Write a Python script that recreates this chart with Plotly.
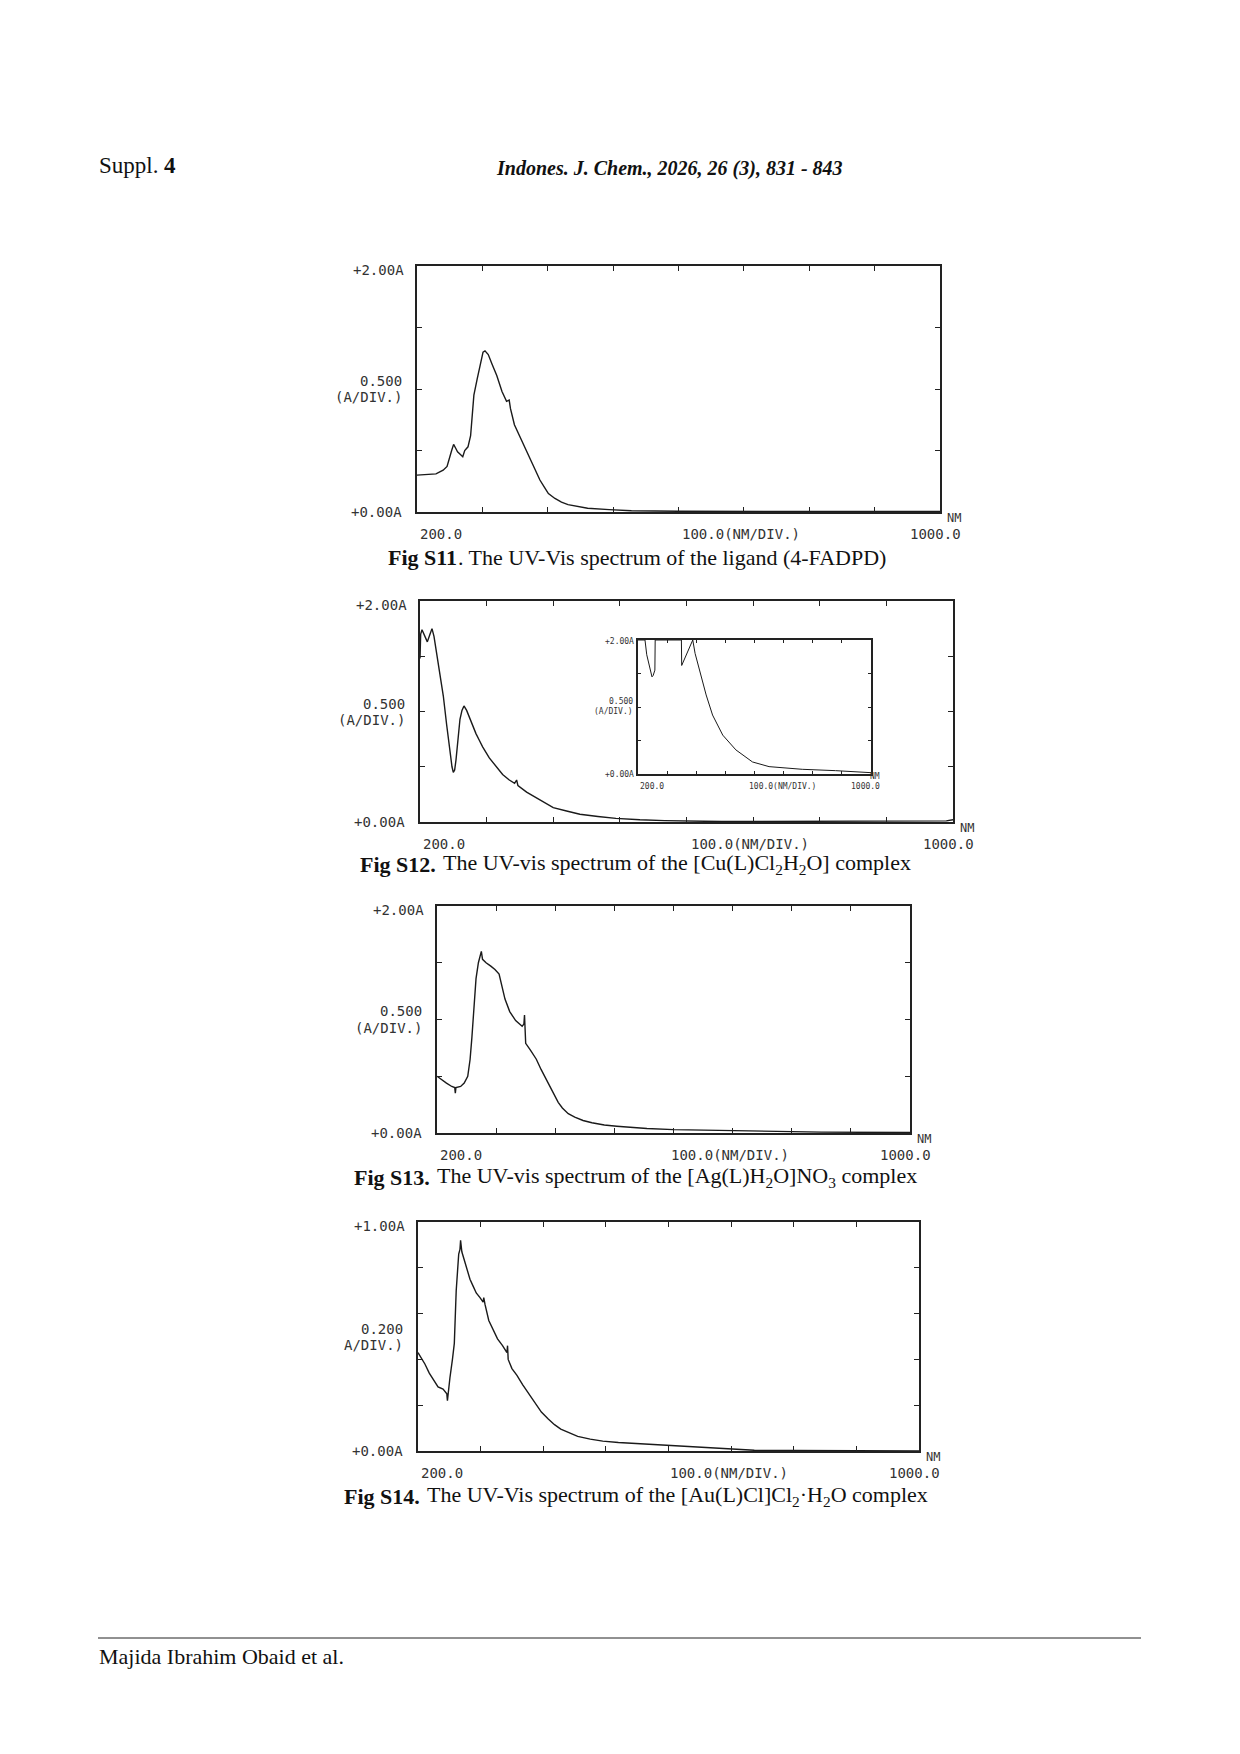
import plotly.graph_objects as go

W, H = 1240, 1754

# ---------------- data (wavelength nm, absorbance A) ----------------
s11_nm = [200, 229, 240, 246, 253, 256, 259, 262, 266, 270, 273, 278, 282, 287, 292, 297, 301, 304,
          309, 315, 322, 330, 337, 341, 343, 349, 356, 362, 369, 375, 382, 388, 395, 401, 411, 421,
          431, 441, 461, 494, 528, 600, 700, 800, 900, 1000]
s11_abs = [0.30, 0.31, 0.34, 0.37, 0.50, 0.55, 0.52, 0.49, 0.47, 0.45, 0.50, 0.53, 0.62, 0.95, 1.08,
           1.22, 1.30, 1.31, 1.28, 1.20, 1.11, 0.98, 0.90, 0.91, 0.84, 0.71, 0.63, 0.57, 0.49, 0.42,
           0.34, 0.26, 0.20, 0.15, 0.11, 0.08, 0.06, 0.048, 0.03, 0.019, 0.010, 0.006, 0.005, 0.004,
           0.004, 0.004]

s12_nm = [200, 201, 203, 207, 211, 215, 218, 221, 225, 230, 235, 240, 245, 248, 250, 252, 254, 257,
          260, 263, 266, 270, 274, 279, 284, 289, 294, 304, 314, 324, 334, 342, 345, 347, 360, 374,
          387, 400, 420, 440, 467, 494, 530, 567, 653, 700, 750, 800, 850, 900, 950, 990, 1000]
s12_abs = [1.48, 1.70, 1.74, 1.68, 1.63, 1.70, 1.75, 1.68, 1.53, 1.33, 1.14, 0.88, 0.62, 0.50, 0.45,
           0.47, 0.56, 0.78, 0.93, 1.01, 1.05, 1.01, 0.95, 0.87, 0.80, 0.74, 0.68, 0.58, 0.50, 0.43,
           0.38, 0.35, 0.38, 0.33, 0.27, 0.22, 0.17, 0.13, 0.10, 0.07, 0.05, 0.033, 0.02, 0.012,
           0.004, 0.005, 0.002, 0.005, 0.008, 0.004, 0.010, 0.010, 0.020]

s12_inset_nm = [200, 224, 230, 240, 248, 252, 258, 259, 349, 350, 360, 372, 388, 396, 411, 434, 456,
                491, 536, 593, 650, 764, 878, 946, 1000]
s12_inset_abs = [2.0, 2.0, 1.78, 1.58, 1.45, 1.47, 1.55, 2.0, 2.0, 1.62, 1.72, 1.85, 2.0, 1.80, 1.55,
                 1.18, 0.88, 0.58, 0.36, 0.18, 0.11, 0.07, 0.05, 0.035, 0.02]

s13_nm = [200, 205, 216, 225, 230, 231, 232, 240, 246, 252, 256, 259, 263, 266, 270, 273, 275, 277,
          283, 291, 298, 305, 309, 315, 323, 333, 344, 347, 348, 349, 350, 358, 368, 376, 383, 391,
          398, 405, 412, 422, 433, 447, 462, 483, 504, 530, 555, 600, 654, 700, 754, 850, 1000]
s13_abs = [0.50, 0.48, 0.44, 0.41, 0.40, 0.35, 0.40, 0.41, 0.44, 0.50, 0.65, 0.84, 1.15, 1.36, 1.50,
           1.55, 1.60, 1.53, 1.50, 1.47, 1.44, 1.40, 1.30, 1.18, 1.07, 0.99, 0.94, 0.96, 1.04, 0.85,
           0.79, 0.73, 0.65, 0.56, 0.49, 0.41, 0.33, 0.27, 0.22, 0.17, 0.14, 0.11, 0.09, 0.07, 0.06,
           0.05, 0.04, 0.03, 0.025, 0.018, 0.012, 0.008, 0.004]

s14_nm = [200, 211, 218, 225, 232, 240, 246, 247, 248, 251, 255, 258, 261, 265, 267, 268, 270, 273,
          278, 283, 288, 293, 299, 304, 305, 307, 313, 320, 327, 335, 342, 343, 344, 350, 358, 367,
          377, 387, 397, 408, 418, 428, 441, 455, 475, 495, 520, 549, 580, 616, 650, 683, 710, 737,
          800, 900, 1000]
s14_abs = [0.43, 0.38, 0.34, 0.31, 0.28, 0.27, 0.25, 0.22, 0.25, 0.32, 0.40, 0.47, 0.70, 0.86, 0.88,
           0.92, 0.87, 0.84, 0.80, 0.75, 0.72, 0.69, 0.67, 0.65, 0.67, 0.64, 0.57, 0.53, 0.49, 0.46,
           0.43, 0.46, 0.40, 0.36, 0.33, 0.29, 0.25, 0.21, 0.17, 0.14, 0.115, 0.096, 0.08, 0.064,
           0.052, 0.043, 0.037, 0.032, 0.027, 0.021, 0.016, 0.010, 0.006, 0.003, 0.002, 0.001, 0.0]

x_ticks = [200, 300, 400, 500, 600, 700, 800, 900, 1000]
y_top_labels = ["+2.00A", "+2.00A", "+2.00A", "+1.00A"]
y_div_labels = [("0.500", "(A/DIV.)"), ("0.500", "(A/DIV.)"), ("0.500", "(A/DIV.)"), ("0.200", "A/DIV.)")]
y_zero_label = "+0.00A"
x_left_label = "200.0"
x_mid_label = "100.0(NM/DIV.)"
x_right_label = "1000.0"
x_unit_label = "NM"
caption_heads = ["Fig S11", "Fig S12.", "Fig S13.", "Fig S14."]
caption_tails = [
    ". The UV-Vis spectrum of the ligand (4-FADPD)",
    "The UV-vis spectrum of the [Cu(L)Cl<sub>2</sub>H<sub>2</sub>O] complex",
    "The UV-vis spectrum of the [Ag(L)H<sub>2</sub>O]NO<sub>3</sub> complex",
    "The UV-Vis spectrum of the [Au(L)Cl]Cl<sub>2</sub>·H<sub>2</sub>O complex",
]

# ---------------- layout helpers ----------------
fig = go.Figure()
annotations = []
MONO = "DejaVu Sans Mono"
SERIF = "Liberation Serif"


def px(x):
    return x / W


def py(y):
    return 1 - y / H


def text(x, y, s, size, font=MONO, xa="center", ya="middle", color="#333",
         weight="normal", style="normal"):
    annotations.append(dict(x=px(x), y=py(y), xref="paper", yref="paper", text=s, showarrow=False,
                            xanchor=xa, yanchor=ya, borderpad=0,
                            font=dict(family=font, size=size, color=color, weight=weight,
                                      style=style)))


def panel(idx, box, xs, ys, ymax, dtick, lw=1.4, tl=5):
    x0, y0, x1, y1 = box
    xa = "xaxis" if idx == 1 else f"xaxis{idx}"
    ya = "yaxis" if idx == 1 else f"yaxis{idx}"
    xr = "x" if idx == 1 else f"x{idx}"
    yr = "y" if idx == 1 else f"y{idx}"
    fig.add_trace(go.Scatter(x=xs, y=ys, mode="lines", xaxis=xr, yaxis=yr,
                             line=dict(color="#1a1a1a", width=lw), showlegend=False,
                             hoverinfo="skip"))
    fig.layout[xa] = dict(domain=[px(x0), px(x1)], range=[200, 1000], anchor=yr,
                          tickvals=x_ticks, ticks="inside", ticklen=tl, tickwidth=1.2,
                          tickcolor="#222", showticklabels=False, showgrid=False, zeroline=False,
                          showline=True, linecolor="#222", linewidth=1.5, mirror="ticks",
                          fixedrange=True)
    fig.layout[ya] = dict(domain=[py(y1), py(y0)], range=[0, ymax], anchor=xr,
                          dtick=dtick, tick0=0, ticks="inside", ticklen=tl, tickwidth=1.2,
                          tickcolor="#222", showticklabels=False, showgrid=False, zeroline=False,
                          showline=True, linecolor="#222", linewidth=1.5, mirror="ticks",
                          fixedrange=True)


# main panels: (left, top, right, bottom) in pixels
boxes = [(417, 266, 940, 512), (420, 601, 953, 822), (437, 906, 910, 1133), (418, 1222, 919, 1451)]
series = [(s11_nm, s11_abs, 2.0, 0.5), (s12_nm, s12_abs, 2.0, 0.5),
          (s13_nm, s13_abs, 2.0, 0.5), (s14_nm, s14_abs, 1.0, 0.2)]
cap_y = [557, 864, 1177, 1496]
cap_split = [458, 437, 431, 421]   # x where bold head ends
cap_gap = [-1, 5, 5, 5]

for i, (box, (xs, ys, ymax, dt)) in enumerate(zip(boxes, series)):
    panel(i + 1, box, xs, ys, ymax, dt)
    x0, y0, x1, y1 = box
    text(x0 - 12, y0 + 4, y_top_labels[i], 14, xa="right")
    mid = (y0 + y1) / 2
    text(x0 - 14, mid - 8, y_div_labels[i][0], 14, xa="right")
    text(x0 - 14, mid + 8, y_div_labels[i][1], 14, xa="right")
    text(x0 - 14, y1, y_zero_label, 14, xa="right")
    text(x0 + 24, y1 + 22, x_left_label, 14)
    text(x0 + (x1 - x0) * 0.62, y1 + 22, x_mid_label, 14)
    text(x1 + 22, y1 + 22, x_right_label, 14, xa="right")
    text(x1 + 14, y1 + 6, x_unit_label, 12)
    text(cap_split[i], cap_y[i], caption_heads[i], 22, font=SERIF, xa="right", color="#111",
         weight="bold")
    text(cap_split[i] + cap_gap[i], cap_y[i], caption_tails[i], 22, font=SERIF, xa="left",
         color="#111")

# inset in Fig S12
ibox = (638, 640, 871, 774)
panel(5, ibox, s12_inset_nm, s12_inset_abs, 2.0, 0.5, lw=1.0, tl=3)
ix0, iy0, ix1, iy1 = ibox
text(ix0 - 3, iy0 + 2, "+2.00A", 8, xa="right")
text(ix0 - 4, (iy0 + iy1) / 2 - 5, "0.500", 8, xa="right")
text(ix0 - 4, (iy0 + iy1) / 2 + 5, "(A/DIV.)", 8, xa="right")
text(ix0 - 3, iy1, y_zero_label, 8, xa="right")
text(ix0 + 14, iy1 + 12, x_left_label, 8)
text(ix0 + (ix1 - ix0) * 0.62, iy1 + 12, x_mid_label, 8)
text(ix1 + 10, iy1 + 12, x_right_label, 8, xa="right")
text(ix1 + 4, iy1 + 2, x_unit_label, 8)

# page header / footer
text(98, 165, "Suppl.", 23, font=SERIF, xa="left", color="#111")
text(163, 165, "4", 23, font=SERIF, xa="left", color="#111", weight="bold")
text(669, 169, "Indones. J. Chem., 2026, 26 (3), 831 - 843", 20, font=SERIF, color="#111",
     weight="bold", style="italic")
text(98, 1656, "Majida Ibrahim Obaid et al.", 22, font=SERIF, xa="left", color="#111")

fig.update_layout(
    width=W, height=H, margin=dict(l=0, r=0, t=0, b=0),
    paper_bgcolor="white", plot_bgcolor="white",
    annotations=annotations,
    shapes=[dict(type="line", xref="paper", yref="paper", x0=px(98), x1=px(1141),
                 y0=py(1638), y1=py(1638), line=dict(color="#222", width=1))],
)

fig.write_html("out.html", config={"displayModeBar": False},
               post_script="document.body.style.margin='0px';")
